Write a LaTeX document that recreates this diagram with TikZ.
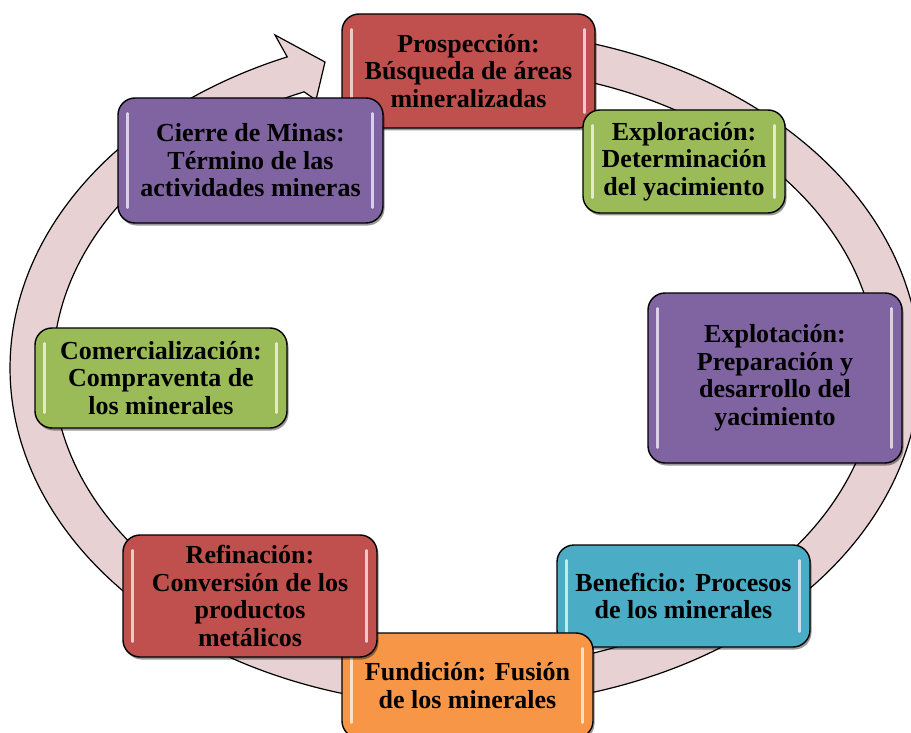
\documentclass[tikz,border=0pt]{standalone}
\usepackage{fontspec}
\setmainfont{Liberation Serif}
\usetikzlibrary{shadows}
\definecolor{cRed}{HTML}{C0504D}
\definecolor{cGreen}{HTML}{9BBB59}
\definecolor{cPurple}{HTML}{8064A2}
\definecolor{cBlue}{HTML}{4BACC6}
\definecolor{cOrange}{HTML}{F79646}
\definecolor{ringPink}{HTML}{E8D1D2}
\newcommand\glossy[1]{%
  \draw[hl] ([xshift=10pt,yshift=-16pt]#1.north west) -- ([xshift=10pt,yshift=16pt]#1.south west);
  \draw[hl] ([xshift=-11pt,yshift=-16pt]#1.north east) -- ([xshift=-11pt,yshift=16pt]#1.south east);}
\begin{document}
\begin{tikzpicture}[x=1pt,y=-1pt,
  box/.style={draw=black, line width=1.4pt, rounded corners=17pt, align=center,
    font=\fontsize{26}{27.5}\selectfont\bfseries, inner sep=0pt,
    drop shadow={shadow xshift=1.5pt, shadow yshift=-2.5pt, opacity=0.4, fill=black}},
  hl/.style={white, line width=2.5pt, line cap=round, opacity=0.7},
  ring/.style={fill=ringPink, draw=black, line width=1.2pt, line join=miter}]
\useasboundingbox (0,0) rectangle (911,733);
% circular arrow band
\draw[ring]
  plot[domain=95:-247, samples=160, smooth] ({465+455*cos(\x)},{368-338*sin(\x)})
  -- (275,35) coordinate (barbA)
  -- (325,62) coordinate (tip)
  -- (316,100) coordinate (barbB)
  -- plot[domain=-247:95, samples=160, smooth] ({465+412*cos(\x)},{368-300*sin(\x)})
  -- cycle;
% boxes
\node[box, fill=cRed, minimum width=253pt, minimum height=114pt] (p) at (468.5,71)
  {Prospección:\\Búsqueda de áreas\\mineralizadas};
\glossy{p}
\node[box, fill=cGreen, minimum width=202pt, minimum height=103pt] (e1) at (684,161.5)
  {Exploración:\\Determinación\\del yacimiento};
\glossy{e1}
\node[box, fill=cPurple, minimum width=254pt, minimum height=170pt] (e2) at (775,378)
  {Explotación:\\Preparación y\\desarrollo del\\yacimiento};
\glossy{e2}
\node[box, fill=cBlue, minimum width=253pt, minimum height=102pt] (b) at (683.5,596)
  {Beneficio: Procesos\\de los minerales};
\glossy{b}
\node[box, fill=cOrange, minimum width=251pt, minimum height=105pt] (f) at (467.5,685.5)
  {Fundición: Fusión\\de los minerales};
\glossy{f}
\node[box, fill=cRed, minimum width=254pt, minimum height=122pt] (r) at (250,596)
  {Refinación:\\Conversión de los\\productos\\metálicos};
\glossy{r}
\node[box, fill=cGreen, minimum width=252pt, minimum height=100pt] (c) at (161,378)
  {Comercialización:\\Compraventa de\\los minerales};
\glossy{c}
\node[box, fill=cPurple, minimum width=265pt, minimum height=125pt] (z) at (250.5,160.5)
  {Cierre de Minas:\\Término de las\\actividades mineras};
\glossy{z}
\end{tikzpicture}
\end{document}
